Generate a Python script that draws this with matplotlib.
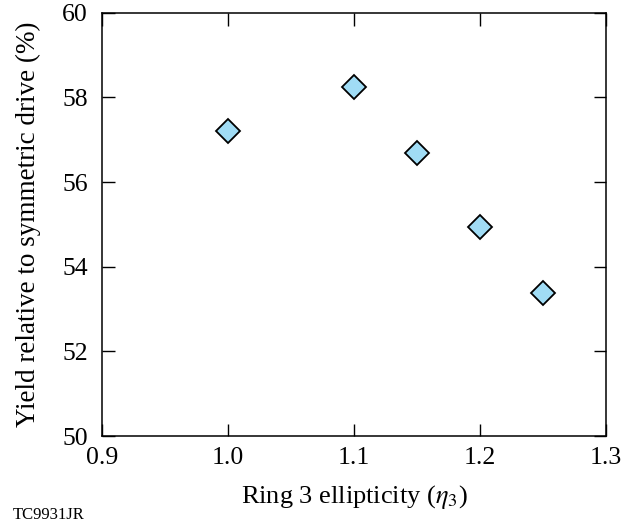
import matplotlib
matplotlib.use('Agg')
import matplotlib.pyplot as plt

plt.rcParams['font.family'] = ['Liberation Serif', 'DejaVu Serif']
plt.rcParams['mathtext.fontset'] = 'stix'

ellipticity = [1.00, 1.10, 1.15, 1.20, 1.25]
yield_pct = [57.2, 58.24, 56.7, 54.95, 53.38]

fig = plt.figure(figsize=(6.37, 5.25), dpi=100)
ax = fig.add_axes([0.160, 0.1695, 0.791, 0.806])

ax.plot(ellipticity, yield_pct, linestyle='none', marker='D', markersize=12.5,
        markerfacecolor='#a0dcf5', markeredgecolor='black', markeredgewidth=1.3)

ax.set_xlim(0.9, 1.3)
ax.set_ylim(50, 60)
ax.set_xticks([0.9, 1.0, 1.1, 1.2, 1.3])
ax.set_yticks([50, 52, 54, 56, 58, 60])
ax.tick_params(direction='in', length=9, width=1, top=True, right=True,
               labelsize=18.5)
ax.tick_params(axis='x', pad=8)
ax.tick_params(axis='y', pad=10)
for s in ax.spines.values():
    s.set_linewidth(1.1)

ax.set_xlabel(r'Ring 3 ellipticity ($\eta_3$)', fontsize=19, labelpad=10)
ax.set_ylabel('Yield relative to symmetric drive (%)', fontsize=19.5, labelpad=15)

fig.text(0.020, 0.012, 'TC9931JR', fontsize=12)

fig.savefig('out.png', dpi=100)
